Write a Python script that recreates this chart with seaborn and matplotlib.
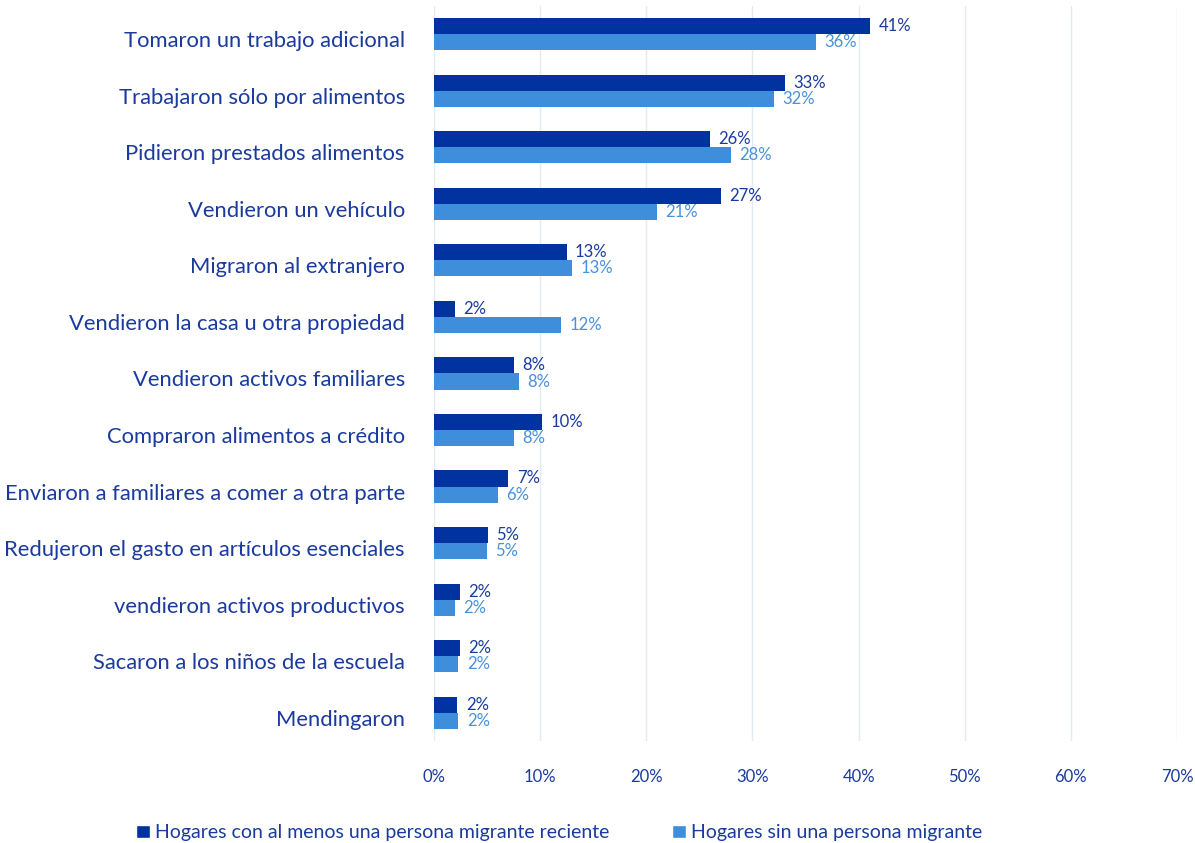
import matplotlib
matplotlib.use("Agg")
import matplotlib.pyplot as plt
import matplotlib.transforms as mtransforms
import seaborn as sns
import pandas as pd
from matplotlib.patches import Patch

categories = [
    "Tomaron un trabajo adicional",
    "Trabajaron sólo por alimentos",
    "Pidieron prestados alimentos",
    "Vendieron un vehículo",
    "Migraron al extranjero",
    "Vendieron la casa u otra propiedad",
    "Vendieron activos familiares",
    "Compraron alimentos a crédito",
    "Enviaron a familiares a comer a otra parte",
    "Redujeron el gasto en artículos esenciales",
    "vendieron activos productivos",
    "Sacaron a los niños de la escuela",
    "Mendingaron",
]
series_names = [
    "Hogares con al menos una persona migrante reciente",
    "Hogares sin una persona migrante",
]
migrante = [41.1, 33.1, 26.0, 27.0, 12.5, 2.0, 7.5, 10.2, 7.0, 5.1, 2.4, 2.4, 2.2]
sin_migrante = [36.0, 32.0, 28.0, 21.0, 13.0, 12.0, 8.0, 7.5, 6.0, 5.0, 2.0, 2.3, 2.3]
labels_migrante = ["41%", "33%", "26%", "27%", "13%", "2%", "8%", "10%", "7%", "5%", "2%", "2%", "2%"]
labels_sin = ["36%", "32%", "28%", "21%", "13%", "12%", "8%", "8%", "6%", "5%", "2%", "2%", "2%"]
x_ticks = [0, 10, 20, 30, 40, 50, 60, 70]
x_ticklabels = ["0%", "10%", "20%", "30%", "40%", "50%", "60%", "70%"]

dark = "#0033A0"
light = "#3F8EDC"
text_dark = "#1A3A9E"
text_light = "#4A90DA"

df = pd.DataFrame({
    "categoria": categories * 2,
    "valor": migrante + sin_migrante,
    "serie": [series_names[0]] * len(categories) + [series_names[1]] * len(categories),
})

sns.set_theme(style="white")
plt.rcParams["font.family"] = ["Lato", "DejaVu Sans"]

fig = plt.figure(figsize=(11.95, 8.43), dpi=100)
ax = fig.add_axes([0.3632, 0.121, 0.6218, 0.872])

sns.barplot(data=df, y="categoria", x="valor", hue="serie", order=categories,
            hue_order=series_names, palette=[dark, light], orient="h",
            width=0.57, saturation=1, ax=ax, legend=False, errorbar=None,
            linewidth=0)

ax.set_xlim(0, 70)
ax.set_ylim(12.5, -0.5)
ax.set_xticks(x_ticks)
ax.set_xticklabels(x_ticklabels)
ax.grid(axis="x", color="#E3EAF2", linewidth=1)
ax.set_axisbelow(True)
for s in ax.spines.values():
    s.set_visible(False)
ax.set_xlabel("")
ax.set_ylabel("")
ax.tick_params(axis="y", length=0, pad=21, labelsize=15.8, labelcolor=text_dark)
ax.tick_params(axis="x", length=0, pad=20, labelsize=12, labelcolor=text_dark)

offset = mtransforms.ScaledTranslation(0, -5 / 100, fig.dpi_scale_trans)
for lbl in ax.get_yticklabels():
    lbl.set_transform(lbl.get_transform() + offset)

ax.bar_label(ax.containers[0], labels=labels_migrante, padding=6, fontsize=12, color=text_dark)
ax.bar_label(ax.containers[1], labels=labels_sin, padding=6, fontsize=12, color=text_light)

handles = [Patch(facecolor=dark), Patch(facecolor=light)]
leg = fig.legend(handles, series_names, loc="center", bbox_to_anchor=(0.468, 0.012),
                 ncol=2, frameon=False, fontsize=14, handlelength=0.7, handleheight=0.7,
                 handletextpad=0.3, columnspacing=3.2)
for t in leg.get_texts():
    t.set_color(text_dark)

fig.savefig("out.png", dpi=100)
